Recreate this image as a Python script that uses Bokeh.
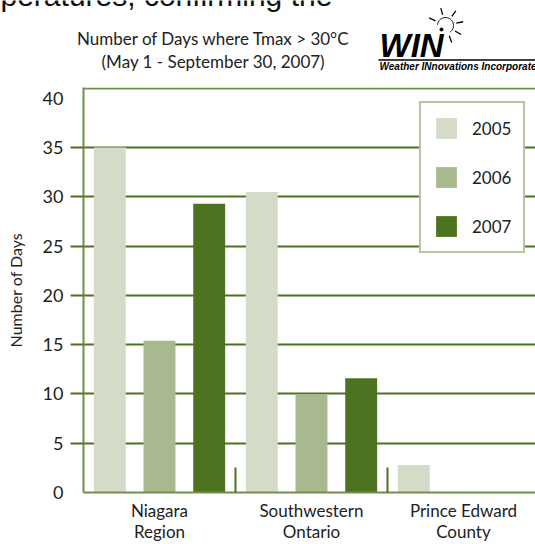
import math
from bokeh.plotting import figure
from bokeh.layouts import column, row
from bokeh.models import (ColumnDataSource, FixedTicker, Range1d, Legend, LegendItem, Span)
from bokeh.core.properties import value
from bokeh.embed import file_html
from bokeh.resources import INLINE

# ---- data ----
regions = ["Niagara\nRegion", "Southwestern\nOntario", "Prince Edward\nCounty"]
years = ["2005", "2006", "2007"]
days_2005 = [35, 30.5, 2.8]
days_2006 = [15.4, 10, 0]
days_2007 = [29.3, 11.6, 0]
y_ticks = [0, 5, 10, 15, 20, 25, 30, 35, 40]

title_lines = ["Number of Days where Tmax > 30°C", "(May 1 - September 30, 2007)"]
y_label = "Number of Days"
logo_text = "WIN"
logo_sub = "Weather INnovations Incorporated"
page_text = "peratures, confirming the"

# ---- style ----
FONT = "Lato"
TXT = "#222222"
bar_colors = ["#d4dcc7", "#a8b98f", "#4e7320"]
grid_color = "#4e7320"
axis_color = "#6f8f4a"

PAGE_W, PAGE_H = 535, 544
HEAD_H = 80

# ---------------- header (title + logo), y axis runs downward in page pixels ----------------
h = figure(width=PAGE_W, height=HEAD_H, output_backend="svg", toolbar_location=None,
           title=None, x_range=Range1d(0, PAGE_W), y_range=Range1d(HEAD_H, 0),
           min_border=0, x_axis_type=None, y_axis_type=None)
h.grid.visible = False
h.outline_line_color = None

h.text(x=[0], y=[-5], text=[page_text], text_font=value("Liberation Sans"),
       text_font_size="30px", text_baseline="middle", text_color="#111111")
h.text(x=[213, 213], y=[38, 61], text=title_lines, text_font=value(FONT),
       text_font_size="17px", text_align="center", text_baseline="middle", text_color=TXT)

h.text(x=[379], y=[45], text=[logo_text], text_font=value("Liberation Sans"),
       text_font_style="bold italic", text_font_size="33px", text_baseline="middle",
       text_color="black")
h.segment(x0=[378], y0=[59.5], x1=[540], y1=[59.5], line_color="black", line_width=1.5)
h.text(x=[379], y=[66], text=[logo_sub], text_font=value("Liberation Sans"),
       text_font_style="bold italic", text_font_size="10px", text_baseline="middle",
       text_color="black")
# little sun over the N
cx, cy = 445, 25
arc_a = [math.radians(a) for a in range(-175, 60, 5)]
h.line(x=[cx + 8 * math.cos(a) for a in arc_a], y=[cy + 8 * math.sin(a) for a in arc_a],
       line_color="black", line_width=1)
ray_a = [math.radians(a) for a in (-155, -105, -55, -12, 30, 70)]
h.segment(x0=[cx + 11 * math.cos(a) for a in ray_a], y0=[cy + 11 * math.sin(a) for a in ray_a],
          x1=[cx + 18 * math.cos(a) for a in ray_a], y1=[cy + 18 * math.sin(a) for a in ray_a],
          line_color="black", line_width=1.3)
h.scatter(x=[441], y=[29], size=3, color="black")

# ---------------- main chart ----------------
p = figure(width=PAGE_W, height=PAGE_H - HEAD_H, output_backend="svg", toolbar_location=None,
           x_range=Range1d(0, 2.974), y_range=Range1d(0, 41.1),
           min_border_left=83, min_border_right=0, min_border_top=7, min_border_bottom=51)
p.outline_line_color = None

series = [days_2005, days_2006, days_2007]
offsets = [-0.327, 0.0, 0.327]
renderers = []
for yr, vals, off, col in zip(years, series, offsets, bar_colors):
    src = ColumnDataSource(dict(x=[i + 0.5 + off for i in range(len(regions))], top=vals))
    r = p.vbar(x="x", top="top", width=0.21, source=src, fill_color=col, line_color=None)
    renderers.append(r)

p.xgrid.visible = False
p.ygrid.ticker = FixedTicker(ticks=[t for t in y_ticks if 0 < t < 40])
p.ygrid.grid_line_color = grid_color
p.ygrid.grid_line_width = 2
p.add_layout(Span(location=41, dimension="width", line_color=axis_color, line_width=2))

ya = p.yaxis[0]
ya.ticker = FixedTicker(ticks=y_ticks, minor_ticks=[t for t in y_ticks if 0 < t < 40])
ya.major_tick_out = 0
ya.major_tick_in = 0
ya.minor_tick_out = 13
ya.minor_tick_in = 0
ya.minor_tick_line_color = grid_color
ya.minor_tick_line_width = 2
ya.axis_line_color = axis_color
ya.axis_line_width = 2
ya.major_label_standoff = 7
ya.major_label_text_font = FONT
ya.major_label_text_font_size = "18px"
ya.major_label_text_color = TXT
ya.axis_label = y_label
ya.axis_label_text_font = FONT
ya.axis_label_text_font_size = "16px"
ya.axis_label_text_font_style = "normal"
ya.axis_label_text_color = TXT
ya.axis_label_standoff = 15

xa = p.xaxis[0]
xa.ticker = FixedTicker(ticks=[i + 0.5 for i in range(len(regions))], minor_ticks=[1, 2])
xa.major_label_overrides = {i + 0.5: r for i, r in enumerate(regions)}
xa.major_tick_out = 0
xa.major_tick_in = 0
xa.minor_tick_in = 25
xa.minor_tick_out = 0
xa.minor_tick_line_color = grid_color
xa.minor_tick_line_width = 2
xa.axis_line_color = axis_color
xa.axis_line_width = 2
xa.major_label_standoff = 7
xa.major_label_text_font = FONT
xa.major_label_text_font_size = "17px"
xa.major_label_text_line_height = 1.0
xa.major_label_text_color = TXT

legend = Legend(items=[LegendItem(label=y, renderers=[r]) for y, r in zip(years, renderers)],
                location=(336, 239), glyph_width=26, glyph_height=26, label_standoff=13,
                spacing=23, padding=12, margin=0, border_line_color=axis_color,
                border_line_width=2, background_fill_color="white", background_fill_alpha=1,
                label_text_font=FONT, label_text_font_size="17px", label_text_color=TXT)
p.add_layout(legend, "center")

layout = column(row(h), row(p), spacing=0)
open("out.html", "w").write(file_html(layout, INLINE))
